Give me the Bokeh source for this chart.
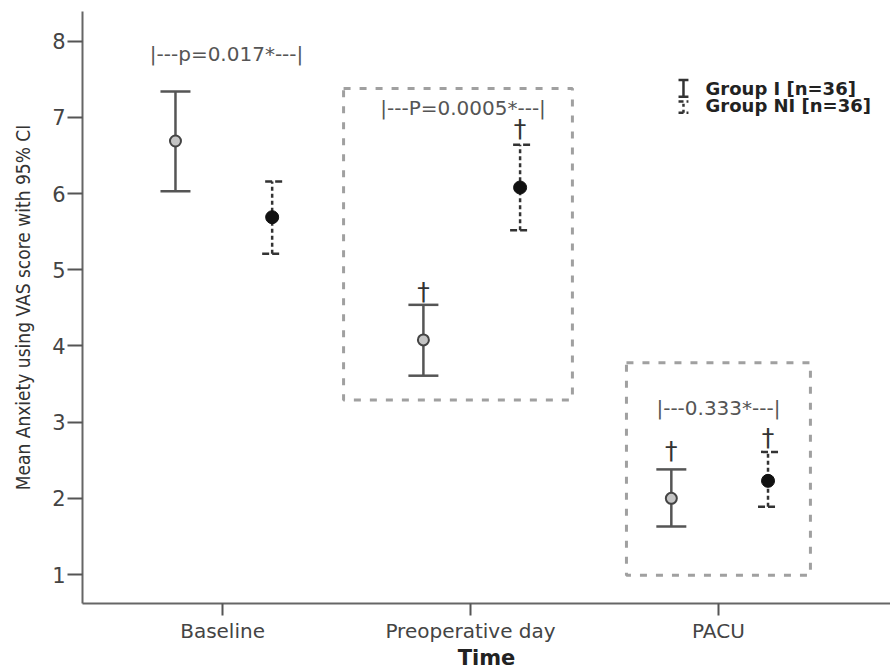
from bokeh.plotting import figure
from bokeh.models import Range1d, FixedTicker, Whisker, TeeHead, ColumnDataSource
from bokeh.core.properties import value
from bokeh.embed import file_html
from bokeh.resources import INLINE

# ---- data ----
categories = ["Baseline", "Preoperative day", "PACU"]
cat_pos = [1, 2, 3]
group_i_mean = [6.69, 4.08, 2.00]
group_i_upper = [7.34, 4.54, 2.38]
group_i_lower = [6.03, 3.61, 1.63]
group_ni_mean = [5.69, 6.08, 2.23]
group_ni_upper = [6.16, 6.64, 2.61]
group_ni_lower = [5.21, 5.52, 1.89]
p_labels = ["|---p=0.017*---|", "|---P=0.0005*---|", "|---0.333*---|"]
p_label_y = [7.83, 7.13, 3.19]
dagger_i_y = [4.72, 2.63]      # Preoperative day, PACU
dagger_ni_y = [6.86, 2.80]
dagger_cats = [2, 3]
legend_labels = ["Group I [n=36]", "Group NI [n=36]"]

# ---- layout constants ----
OFF_I = -0.19
OFF_NI = 0.20
FONT = "DejaVu Sans"

p = figure(frame_width=808, frame_height=592, output_backend="svg", toolbar_location=None,
           x_range=Range1d(0.435, 3.694), y_range=Range1d(0.62, 8.39),
           min_border_left=82, min_border_right=0, min_border_top=11, min_border_bottom=40)
p.outline_line_color = None
p.grid.visible = False
p.background_fill_color = "white"

xi = [c + OFF_I for c in cat_pos]
xn = [c + OFF_NI for c in cat_pos]
src_i = ColumnDataSource(dict(x=xi, m=group_i_mean, u=group_i_upper, l=group_i_lower))
src_n = ColumnDataSource(dict(x=xn, m=group_ni_mean, u=group_ni_upper, l=group_ni_lower))

# dashed boxes
p.quad(left=[1.488], right=[2.411], bottom=[3.29], top=[7.38], fill_color=None,
       line_color="#a0a0a0", line_width=3, line_dash="7 9")
p.quad(left=[2.629], right=[3.371], bottom=[0.99], top=[3.78], fill_color=None,
       line_color="#a0a0a0", line_width=3, line_dash="7 9")

# Group I error bars
w_i = Whisker(source=src_i, base="x", upper="u", lower="l", dimension="height",
              line_color="#555555", line_width=2.5,
              upper_head=TeeHead(size=30, line_color="#555555", line_width=2.5),
              lower_head=TeeHead(size=30, line_color="#555555", line_width=2.5))
p.add_layout(w_i)
# Group NI error bars
w_n = Whisker(source=src_n, base="x", upper="u", lower="l", dimension="height",
              line_color="#333333", line_width=2.5, line_dash="4 3",
              upper_head=TeeHead(size=20, line_color="#333333", line_width=2.5, line_dash="7 3"),
              lower_head=TeeHead(size=20, line_color="#333333", line_width=2.5, line_dash="7 3"))
p.add_layout(w_n)

p.scatter("x", "m", source=src_i, size=11, fill_color="#c4c4c4", line_color="#444444", line_width=2)
p.scatter("x", "m", source=src_n, size=13, fill_color="#111111", line_color="#111111")

# daggers
p.text(x=[c + OFF_I for c in dagger_cats], y=dagger_i_y, text=["†"] * 2,
       text_font=value(FONT), text_font_size="25px", text_color="#333333",
       text_align="center", text_baseline="middle")
p.text(x=[c + OFF_NI for c in dagger_cats], y=dagger_ni_y, text=["†"] * 2,
       text_font=value(FONT), text_font_size="25px", text_color="#333333",
       text_align="center", text_baseline="middle")

# p-value labels
p.text(x=[1.016, 1.97, 3.0], y=p_label_y, text=p_labels,
       text_font=value(FONT), text_font_size="20px", text_color="#555555",
       text_align="center", text_baseline="middle")

# legend (manual)
lx = 2.859
p.segment(x0=[lx], x1=[lx], y0=[7.27], y1=[7.49], line_color="#333333", line_width=2.5)
p.segment(x0=[lx - 0.02, lx - 0.02], x1=[lx + 0.02, lx + 0.02], y0=[7.27, 7.49], y1=[7.27, 7.49],
          line_color="#333333", line_width=2.5)
p.segment(x0=[lx], x1=[lx], y0=[7.06], y1=[7.21], line_color="#333333", line_width=2.5, line_dash="3 3")
p.segment(x0=[lx - 0.02, lx - 0.02], x1=[lx + 0.02, lx + 0.02], y0=[7.06, 7.21], y1=[7.06, 7.21],
          line_color="#333333", line_width=2.5, line_dash="5 3")
p.text(x=[2.948, 2.948], y=[7.38, 7.15], text=legend_labels,
       text_font=value(FONT), text_font_size="18px", text_font_style="bold", text_color="#222222",
       text_align="left", text_baseline="middle")

# axes
for ax in (p.xaxis[0], p.yaxis[0]):
    ax.axis_line_color = "#666666"
    ax.axis_line_width = 2
    ax.major_tick_line_color = "#555555"
    ax.major_tick_line_width = 2
    ax.minor_tick_line_color = None
    ax.major_tick_in = 0
    ax.major_label_text_font = FONT
    ax.major_label_text_color = "#444444"

p.xaxis.ticker = FixedTicker(ticks=cat_pos)
p.xaxis.major_label_overrides = {c: n for c, n in zip(cat_pos, categories)}
p.xaxis.major_tick_out = 12
p.xaxis.major_label_text_font_size = "20px"
p.xaxis.major_label_standoff = 3
p.xaxis.axis_label = "Time"
p.xaxis.axis_label_text_font = FONT
p.xaxis.axis_label_text_font_style = "bold"
p.xaxis.axis_label_text_font_size = "21px"
p.xaxis.axis_label_text_color = "#222222"
p.xaxis.axis_label_standoff = 0

p.yaxis.ticker = FixedTicker(ticks=[1, 2, 3, 4, 5, 6, 7, 8])
p.yaxis.major_tick_out = 15
p.yaxis.major_label_text_font_size = "21px"
p.yaxis.major_label_standoff = 2
p.yaxis.axis_label = "Mean Anxiety using VAS score with 95% CI"
p.yaxis.axis_label_text_font = "DejaVu Sans Condensed"
p.yaxis.axis_label_text_font_style = "normal"
p.yaxis.axis_label_text_font_size = "19px"
p.yaxis.axis_label_text_color = "#333333"
p.yaxis.axis_label_standoff = 15

open("out.html", "w").write(file_html(p, INLINE))
